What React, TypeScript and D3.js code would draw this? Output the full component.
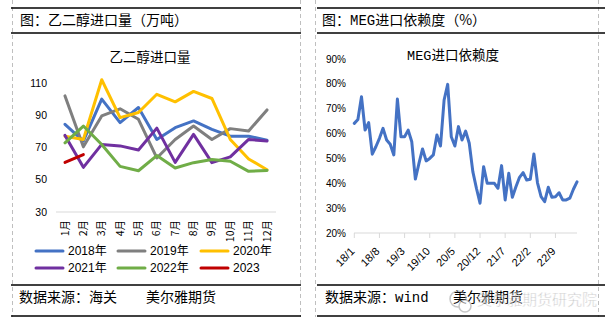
import React from "react";
import * as d3 from "d3";

const months = ["1月", "2月", "3月", "4月", "5月", "6月", "7月", "8月", "9月", "10月", "11月", "12月"];
const leftTicks = [30, 50, 70, 90, 110];

const y2018 = [84.4, 74, 100, 85.4, 94.8, 75, 82.3, 86.5, 81.3, 77, 77, 74.5];
const y2019 = [102, 70.4, 89.6, 94, 87.5, 63.5, 75, 83.3, 75, 81.7, 80.2, 93.3];
const y2020 = [77, 75, 112, 88.5, 91.7, 103, 98.3, 104.8, 100.4, 75, 62.9, 56.2];
const y2021 = [77.5, 57.7, 71.9, 71, 68.5, 82, 60.8, 78.1, 60.6, 64.2, 75, 74];
const y2022 = [72.9, 83.3, 71.9, 58.3, 55.6, 65, 57.3, 60.6, 62.5, 61.5, 55.2, 55.8];
const y2023 = [60.8, 65.6];

const seriesNames = ["2018年", "2019年", "2020年", "2021年", "2022年", "2023"];
const seriesColors = ["#4472C4", "#7F7F7F", "#FFC000", "#7030A0", "#70AD47", "#C00000"];
const seriesData = [y2018, y2019, y2020, y2021, y2022, y2023];

const megValues = [
  64.1, 65.7, 74.8, 61.4, 64.4, 51.7, 54.7, 58.1, 62.1, 57.4, 55.7, 51.4,
  73.9, 58.7, 58.7, 61.4, 56.7, 41.7, 48, 53.8, 49, 50, 51.4, 59.4,
  55, 73.5, 79.8, 58.7, 55, 62.8, 57.4, 61, 56.1, 44.7, 38, 32,
  46.7, 40, 40, 40, 38, 47.1, 33.3, 44, 34.4, 38.6, 42.4, 44.3,
  41.3, 41.6, 51.8, 40.2, 34.6, 32.6, 38.4, 34.4, 34.6, 36.2, 33.3, 33.3,
  34, 37.6, 40.6,
];
const megLabels = ["18/1", "18/8", "19/3", "19/10", "20/5", "20/12", "21/7", "22/2", "22/9"];
const rightTicks = [20, 30, 40, 50, 60, 70, 80, 90];

const CJK = "'Noto Sans CJK SC', sans-serif";
const NUM = "'Liberation Sans', Arial, sans-serif";
const MONO = "'Liberation Mono', monospace";

export default function App() {
  // left chart scales
  const xL = d3.scalePoint<string>().domain(months).range([65, 267]);
  const yL = d3.scaleLinear().domain([30, 110]).range([212, 83]);
  const lineL = d3
    .line<number>()
    .x((_, i) => xL(months[i]) as number)
    .y((d) => yL(d));

  // right chart scales
  const xR = d3.scaleLinear().domain([0, megValues.length - 1]).range([354.3, 577]);
  const yR = d3.scaleLinear().domain([20, 90]).range([233, 59]);
  const lineR = d3
    .line<number>()
    .x((_, i) => xR(i))
    .y((d) => yR(d));

  const legendPos = [
    [36, 251],
    [118, 251],
    [201, 251],
    [36, 268],
    [118, 268],
    [201, 268],
  ];

  return (
    <svg width={609} height={331} style={{ position: "absolute", left: 0, top: 0, background: "#fff" }}>
      <rect x={0} y={0} width={609} height={331} fill="#fff" />
      {/* panel dashed borders */}
      <g stroke="#BFBFBF" strokeDasharray="4,3" strokeWidth={1} fill="none">
        <line x1={12.5} y1={0} x2={12.5} y2={317} />
        <line x1={300.5} y1={0} x2={300.5} y2={317} />
        <line x1={315.5} y1={0} x2={315.5} y2={317} />
        <line x1={598.5} y1={0} x2={598.5} y2={317} />
      </g>
      {/* header / footer rules */}
      <g stroke="#000" strokeWidth={1.5}>
        <line x1={11} y1={8} x2={301} y2={8} />
        <line x1={11} y1={33} x2={301} y2={33} />
        <line x1={11} y1={285} x2={301} y2={285} />
        <line x1={11} y1={316} x2={301} y2={316} />
        <line x1={317} y1={8} x2={605} y2={8} />
        <line x1={317} y1={33} x2={605} y2={33} />
        <line x1={317} y1={285} x2={605} y2={285} />
        <line x1={317} y1={316} x2={605} y2={316} />
      </g>
      <text x={20} y={25} fontFamily={CJK} fontSize={14} fill="#000">图：乙二醇进口量（万吨）</text>
      <text x={322} y={25} fontFamily={CJK} fontSize={14} fill="#000">
        图：<tspan fontFamily={MONO}>MEG</tspan>进口依赖度（%）
      </text>
      <text x={19} y={302} fontFamily={CJK} fontSize={14} fill="#000">数据来源：海关</text>
      <text x={146} y={302} fontFamily={CJK} fontSize={14} fill="#000">美尔雅期货</text>
      <text x={325} y={302} fontFamily={CJK} fontSize={14} fill="#000">
        数据来源：<tspan fontFamily={MONO}>wind</tspan>
      </text>
      <text x={453} y={302} fontFamily={CJK} fontSize={14} fill="#000">美尔雅期货</text>

      {/* LEFT CHART */}
      <text x={150} y={62} textAnchor="middle" fontFamily={CJK} fontSize={13.5} fill="#000">乙二醇进口量</text>
      <line x1={56} x2={276} y1={yL(30)} y2={yL(30)} stroke="#D9D9D9" strokeWidth={1} />
      {leftTicks.map((t) => (
        <text key={t} x={47} y={yL(t)} dy="0.35em" textAnchor="end" fontFamily={NUM} fontSize={10.5} fill="#000">
          {t}
        </text>
      ))}
      {months.map((m) => (
        <text
          key={m}
          transform={`translate(${(xL(m) as number) + 3.5},220) rotate(-90)`}
          textAnchor="end"
          fontFamily={CJK}
          fontSize={10.5}
          fill="#000"
        >
          {m}
        </text>
      ))}
      {seriesData.map((s, k) => (
        <path
          key={k}
          d={lineL(s) || ""}
          fill="none"
          stroke={seriesColors[k]}
          strokeWidth={3}
          strokeLinejoin="round"
          strokeLinecap="round"
        />
      ))}
      {seriesNames.map((n, k) => (
        <g key={n}>
          <line
            x1={legendPos[k][0]}
            x2={legendPos[k][0] + 27}
            y1={legendPos[k][1]}
            y2={legendPos[k][1]}
            stroke={seriesColors[k]}
            strokeWidth={3}
            strokeLinecap="round"
          />
          <text x={legendPos[k][0] + 32} y={legendPos[k][1]} dy="0.36em" fontFamily={NUM} fontSize={12} fill="#000">
            {n.replace("年", "")}
            {n.includes("年") ? <tspan fontFamily={CJK}>年</tspan> : null}
          </text>
        </g>
      ))}

      {/* RIGHT CHART */}
      <text x={453} y={60} textAnchor="middle" fontFamily={CJK} fontSize={13.5} fill="#000">
        <tspan fontFamily={MONO}>MEG</tspan>进口依赖度
      </text>
      {rightTicks.map((t) => (
        <text key={t} x={346} y={yR(t)} dy="0.35em" textAnchor="end" fontFamily={NUM} fontSize={10} fill="#000">
          {t}%
        </text>
      ))}
      <line x1={354} x2={577} y1={yR(20)} y2={yR(20)} stroke="#D9D9D9" strokeWidth={1} />
      {megLabels.map((l, k) => {
        const x = xR(k * 7);
        return (
          <g key={l}>
            <line x1={x} x2={x} y1={yR(20)} y2={yR(20) + 5} stroke="#D9D9D9" strokeWidth={1} />
            <text
              transform={`translate(${x + 1},${yR(20) + 19}) rotate(-45)`}
              textAnchor="end"
              fontFamily={NUM}
              fontSize={11}
              fill="#000"
            >
              {l}
            </text>
          </g>
        );
      })}
      <path
        d={lineR(megValues) || ""}
        fill="none"
        stroke="#4472C4"
        strokeWidth={3}
        strokeLinejoin="round"
        strokeLinecap="round"
      />

      {/* watermark */}
      <g opacity={0.55}>
        <circle cx={458} cy={299} r={8} fill="none" stroke="#999" strokeWidth={1.5} />
        <circle cx={465} cy={306} r={6} fill="#fff" stroke="#999" strokeWidth={1.5} />
        <text x={477} y={305} fontFamily={CJK} fontSize={15} fill="#888" stroke="#fff" strokeWidth={0.5}>
          美尔雅期货研究院
        </text>
      </g>
    </svg>
  );
}
